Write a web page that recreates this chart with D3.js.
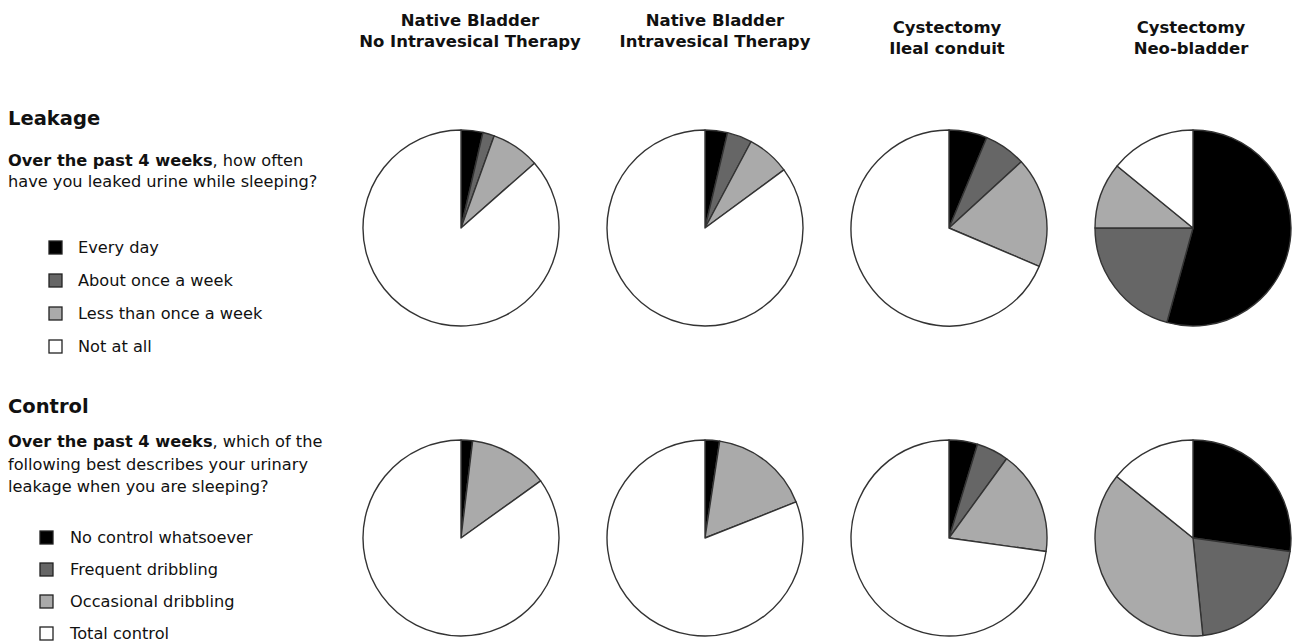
<!DOCTYPE html>
<html>
<head>
<meta charset="utf-8">
<script src="https://cdn.jsdelivr.net/npm/d3@7"></script>
<style>
  body { margin: 0; background: #fff; }
  svg text { font-family: "DejaVu Sans", Verdana, sans-serif; fill: #111; }
</style>
</head>
<body>
<script>
// groups (columns)
const groups = [
  ["Native Bladder", "No Intravesical Therapy"],
  ["Native Bladder", "Intravesical Therapy"],
  ["Cystectomy", "Ileal conduit"],
  ["Cystectomy", "Neo-bladder"]
];

// leakage question: every day, about once a week, less than once a week, not at all (%)
const leakageCats = ["Every day", "About once a week", "Less than once a week", "Not at all"];
const leakageValues = [
  [3.6, 1.9, 8.0, 86.5],
  [3.7, 4.1, 7.1, 85.1],
  [6.3, 6.9, 18.2, 68.6],
  [54.3, 20.7, 10.9, 14.1]
];

// control question (%)
const controlCats = ["No control whatsoever", "Frequent dribbling", "Occasional dribbling", "Total control"];
const controlValues = [
  [1.9, 0, 13.2, 84.9],
  [2.4, 0, 16.6, 81.0],
  [4.7, 5.3, 17.2, 72.8],
  [27.2, 21.2, 37.4, 14.2]
];

const fills = ["#000000", "#666666", "#aaaaaa", "#ffffff"];

const width = 1293, height = 642;
const svg = d3.select("body").append("svg")
  .attr("width", width)
  .attr("height", height);

// column positions
const x = d3.scalePoint()
  .domain(d3.range(groups.length))
  .range([461, 1193]);

const radius = 98;
const pie = d3.pie().sort(null).value(d => d);
const arc = d3.arc().innerRadius(0).outerRadius(radius);

// column headers (not exactly centred over the pies in the original)
const headDx = [9, 10, -2, -2];
const headDy = [0, 0, 7, 7];
groups.forEach((g, i) => {
  const hx = x(i) + headDx[i];
  const t = svg.append("text")
    .attr("x", hx)
    .attr("text-anchor", "middle")
    .style("font-weight", "bold")
    .style("font-size", "16.5px");
  t.append("tspan").attr("x", hx).attr("y", 26 + headDy[i]).text(g[0]);
  t.append("tspan").attr("x", hx).attr("y", 47 + headDy[i]).text(g[1]);
});

function drawRow(values, cy) {
  values.forEach((vals, i) => {
    const g = svg.append("g")
      .attr("transform", "translate(" + x(i) + "," + cy + ")");
    g.selectAll("path")
      .data(pie(vals))
      .enter().append("path")
      .attr("d", arc)
      .attr("fill", (d, j) => fills[j])
      .attr("stroke", "#333")
      .attr("stroke-width", 1.4)
      .attr("stroke-linejoin", "round");
  });
}

drawRow(leakageValues, 228);
drawRow(controlValues, 538);

// left side panels
function drawPanel(opts) {
  svg.append("text")
    .attr("x", 8).attr("y", opts.titleY)
    .style("font-weight", "bold")
    .style("font-size", "19.5px")
    .text(opts.title);

  opts.lines.forEach((ln, k) => {
    const t = svg.append("text")
      .attr("x", 8).attr("y", opts.qY + k * opts.qStep)
      .style("font-size", "16.2px");
    if (k === 0) {
      t.append("tspan").style("font-weight", "bold").text("Over the past 4 weeks");
      t.append("tspan").text(ln);
    } else {
      t.text(ln);
    }
  });

  const item = svg.append("g").selectAll("g")
    .data(opts.cats)
    .enter().append("g")
    .attr("transform", (d, j) => "translate(0," + (opts.legY + j * opts.legStep) + ")");
  item.append("rect")
    .attr("x", opts.boxX).attr("y", -12)
    .attr("width", 13).attr("height", 13)
    .attr("fill", (d, j) => fills[j])
    .attr("stroke", "#222")
    .attr("stroke-width", 1.3);
  item.append("text")
    .attr("x", opts.textX).attr("y", 0)
    .style("font-size", "16.2px")
    .text(d => d);
}

drawPanel({
  title: "Leakage", titleY: 125,
  lines: [", how often", "have you leaked urine while sleeping?"],
  qY: 166, qStep: 21,
  cats: leakageCats, legY: 253, legStep: 33, boxX: 49, textX: 78
});

drawPanel({
  title: "Control", titleY: 413,
  lines: [", which of the", "following best describes your urinary", "leakage when you are sleeping?"],
  qY: 447, qStep: 22.5,
  cats: controlCats, legY: 543, legStep: 32, boxX: 40, textX: 70
});
</script>
</body>
</html>
